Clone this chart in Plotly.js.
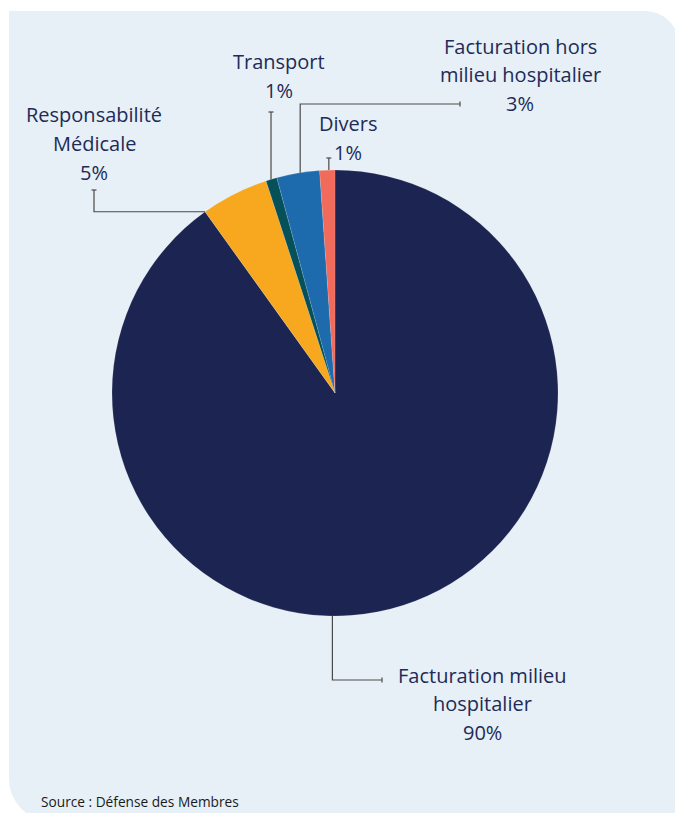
<!DOCTYPE html>
<html>
<head>
<meta charset="utf-8">
<script src="https://cdn.plot.ly/plotly-3.0.1.min.js"></script>
<style>
  html, body { margin: 0; padding: 0; background: #ffffff; }
  #wrap { position: relative; width: 675px; height: 813px; overflow: hidden; }
  #panel { position: absolute; left: 9px; top: 11px; width: 670px; height: 810px;
           background: #e6f0f6; border-top-right-radius: 34px; border-bottom-left-radius: 42px; }
  #chart { position: absolute; left: 0; top: 0; width: 675px; height: 813px; }
</style>
</head>
<body>
<div id="wrap">
  <div id="panel"></div>
  <div id="chart"></div>
</div>
<script>
// ---- data ----
const categories = [
  "Facturation milieu hospitalier",
  "Responsabilité Médicale",
  "Transport",
  "Facturation hors milieu hospitalier",
  "Divers"
];
const values = [90.1, 4.9, 0.8, 3.1, 1.1];
const labelLines = [
  ["Facturation milieu", "hospitalier"],
  ["Responsabilité", "Médicale"],
  ["Transport"],
  ["Facturation hors", "milieu hospitalier"],
  ["Divers"]
];
const colors = ["#1c2551", "#f7a81e", "#06505a", "#1d6aad", "#f06b5c"];
const sourceText = "Source : Défense des Membres";

// ---- layout geometry (pixels) ----
const W = 675, H = 813;
const cx = 335, cy = 393, R = 223;
// where along each slice the leader line leaves the pie (0..1)
const anchorFrac = [0.557, 0.0, 0.46, 0.55, 0.6];
// leader routes: list of elbow points after the anchor
const routes = [
  [[null, 680], [382, 680]],   // down then right
  [[94, null], [94, 190]],     // left then up
  [[null, 112]],               // up
  [[null, 104], [460, 104]],   // up then right
  [[null, 158]]                // up
];
// label centres (x) and first-line y, line spacing
const labelPos = [[482, 675], [94, 115], [279, 62], [520, 46], [348, 124]];
const lineStep = 28.7;
const FONT = "'Open Sans', sans-serif";
const TXT = "#222b58";

const px = x => x / W;
const py = y => 1 - y / H;

const total = values.reduce((a, b) => a + b, 0);
const shapes = [];
const annotations = [];
let cum = 0;
values.forEach((v, i) => {
  const start = cum / total * 360;
  const span = v / total * 360;
  cum += v;
  const th = (start + span * anchorFrac[i]) * Math.PI / 180;
  let x0 = cx + R * Math.sin(th), y0 = cy - R * Math.cos(th);
  let pts = [[x0, y0]];
  routes[i].forEach(p => {
    const last = pts[pts.length - 1];
    pts.push([p[0] === null ? last[0] : p[0], p[1] === null ? last[1] : p[1]]);
  });
  let d = "M" + pts.map(p => px(p[0]) + "," + py(p[1])).join(" L");
  shapes.push({type: "path", xref: "paper", yref: "paper", path: d,
               line: {color: "#4a4a4a", width: 1.2}});
  // small end cap
  const a = pts[pts.length - 2], b = pts[pts.length - 1];
  const vertical = Math.abs(a[0] - b[0]) < 0.5;
  const c = 2.5;
  const cap = vertical
    ? [[b[0] - c, b[1]], [b[0] + c, b[1]]]
    : [[b[0], b[1] - c], [b[0], b[1] + c]];
  shapes.push({type: "line", xref: "paper", yref: "paper",
               x0: px(cap[0][0]), y0: py(cap[0][1]), x1: px(cap[1][0]), y1: py(cap[1][1]),
               line: {color: "#4a4a4a", width: 1.2}});
  // labels
  const pct = Math.round(v / total * 100) + "%";
  const lines = labelLines[i].concat([pct]);
  lines.forEach((t, k) => {
    annotations.push({
      xref: "paper", yref: "paper",
      x: px(labelPos[i][0]), y: py(labelPos[i][1] + k * lineStep),
      xanchor: "center", yanchor: "middle", showarrow: false,
      text: t, font: {family: FONT, size: 20, color: TXT}
    });
  });
});

annotations.push({
  xref: "paper", yref: "paper", x: px(39), y: py(801),
  xanchor: "left", yanchor: "middle", showarrow: false,
  text: sourceText, font: {family: "'Open Sans', sans-serif", size: 13.7, color: "#1a1a1a"}
});

const trace = {
  type: "pie",
  labels: categories,
  values: values,
  sort: false,
  direction: "clockwise",
  rotation: 0,
  textinfo: "none",
  hoverinfo: "label+percent",
  marker: {colors: colors, line: {color: "rgba(255,255,255,0.25)", width: 0.5}},
  domain: {x: [px(cx - R), px(cx + R)], y: [py(cy + R), py(cy - R)]},
  showlegend: false
};

const layout = {
  width: W, height: H,
  margin: {l: 0, r: 0, t: 0, b: 0},
  paper_bgcolor: "rgba(0,0,0,0)",
  plot_bgcolor: "rgba(0,0,0,0)",
  showlegend: false,
  shapes: shapes,
  annotations: annotations
};

Plotly.newPlot("chart", [trace], layout, {displayModeBar: false, staticPlot: true});
</script>
</body>
</html>
